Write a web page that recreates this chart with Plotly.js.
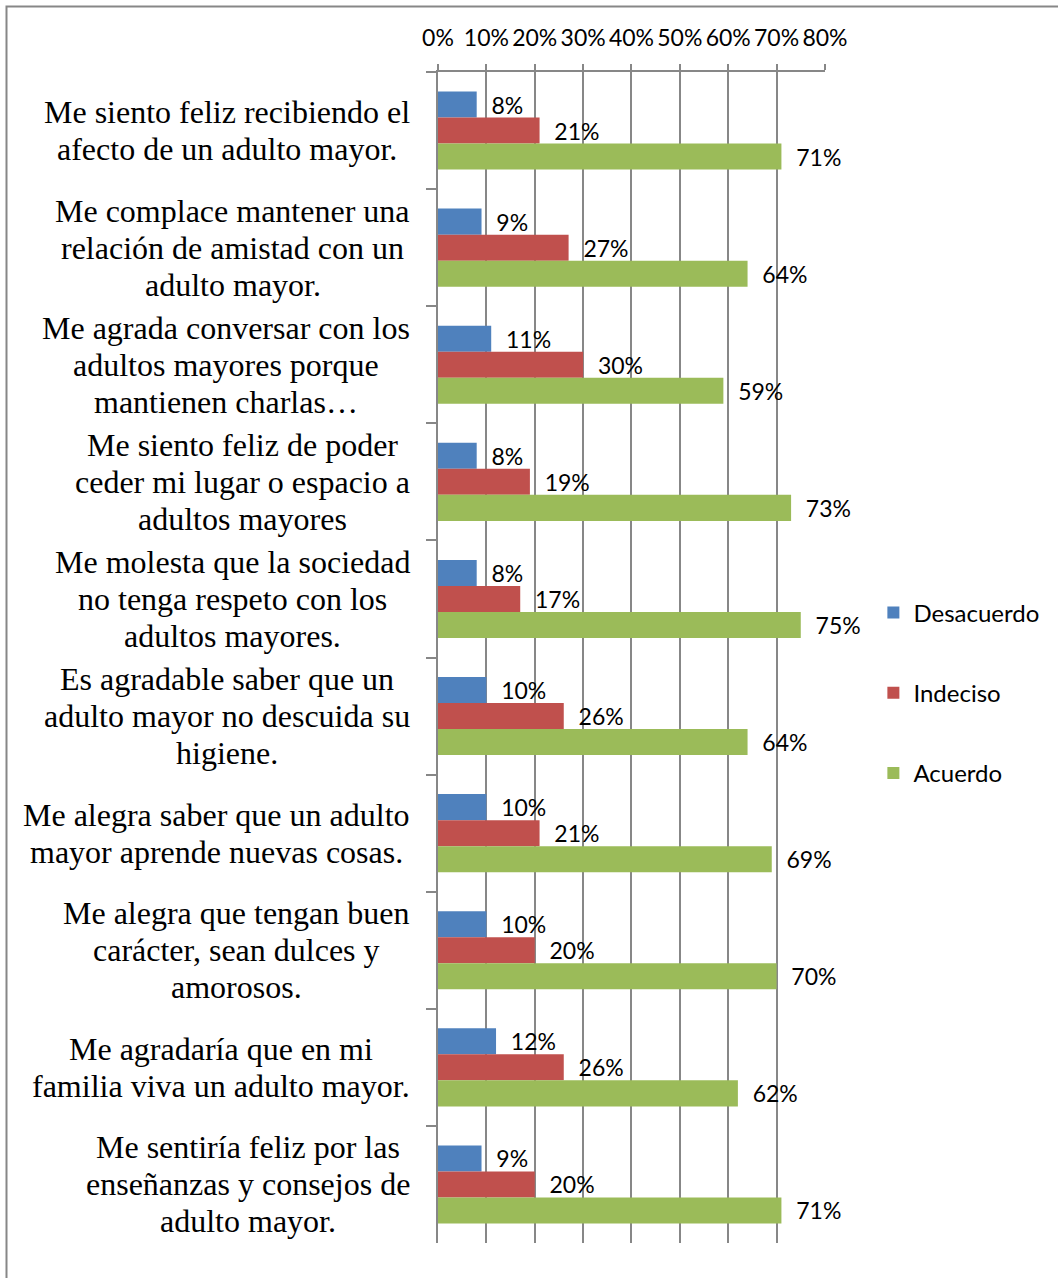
<!DOCTYPE html>
<html>
<head>
<meta charset="utf-8">
<script src="https://cdn.plot.ly/plotly-3.0.1.min.js"></script>
<style>html,body{margin:0;padding:0;background:#fff;}#chart{width:1058px;height:1278px;}</style>
</head>
<body>
<div id="chart"></div>
<script>
var categories = [
  "Me siento feliz recibiendo el<br>afecto de un adulto mayor.",
  "Me complace mantener una<br>relación de amistad con un<br>adulto mayor.",
  "Me agrada conversar con los<br>adultos mayores porque<br>mantienen charlas…",
  "Me siento feliz de poder<br>ceder mi lugar o espacio a<br>adultos mayores",
  "Me molesta que la sociedad<br>no tenga respeto con los<br>adultos mayores.",
  "Es agradable saber que un<br>adulto mayor no descuida su<br>higiene.",
  "Me alegra saber que un adulto<br>mayor aprende nuevas cosas.",
  "Me alegra que tengan buen<br>carácter, sean dulces y<br>amorosos.",
  "Me agradaría que en mi<br>familia viva un adulto mayor.",
  "Me sentiría feliz por las<br>enseñanzas y consejos de<br>adulto mayor."
];
var seriesNames = ["Desacuerdo", "Indeciso", "Acuerdo"];
var desacuerdo = [0.08, 0.09, 0.11, 0.08, 0.08, 0.10, 0.10, 0.10, 0.12, 0.09];
var indeciso   = [0.21, 0.27, 0.30, 0.19, 0.17, 0.26, 0.21, 0.20, 0.26, 0.20];
var acuerdo    = [0.71, 0.64, 0.59, 0.73, 0.75, 0.64, 0.69, 0.70, 0.62, 0.71];
var colors = ["#4F81BD", "#C0504D", "#9BBB59"];
var tickVals = [0, 0.1, 0.2, 0.3, 0.4, 0.5, 0.6, 0.7, 0.8];
var tickText = ["0%", "10%", "20%", "30%", "40%", "50%", "60%", "70%", "80%"];

var sansFont = "Lato, 'Open Sans', sans-serif";
var serifFont = "'Liberation Serif', 'DejaVu Serif', serif";
var labelSize = 32;
var lineStep = 37;
var labelGap = 28;

var allSeries = [desacuerdo, indeciso, acuerdo];
var traces = allSeries.map(function (vals, i) {
  return {
    type: "bar",
    orientation: "h",
    name: seriesNames[i],
    legendgroup: seriesNames[i],
    x: vals,
    y: categories,
    marker: {color: colors[i], line: {width: 0}},
    text: vals.map(function (v) { return "\u00a0\u00a0" + Math.round(v * 100) + "%"; }),
    textposition: "outside",
    constraintext: "none",
    cliponaxis: false,
    textfont: {family: sansFont, size: 23, color: "#000"},
    hoverinfo: "none"
  };
});

var ctx = document.createElement("canvas").getContext("2d");
ctx.font = labelSize + "px 'Liberation Serif'";
var annotations = [];
categories.forEach(function (c) {
  var lines = c.split("<br>");
  var maxW = 0;
  lines.forEach(function (l) { maxW = Math.max(maxW, ctx.measureText(l).width); });
  var n = lines.length;
  lines.forEach(function (l, j) {
    annotations.push({
      xref: "paper", yref: "y",
      x: 0, y: c,
      xanchor: "center", yanchor: "middle",
      xshift: -(labelGap + maxW / 2),
      yshift: -((j - (n - 1) / 2) * lineStep),
      text: l,
      showarrow: false,
      borderpad: 0,
      font: {family: serifFont, size: labelSize, color: "#000"}
    });
  });
});

var layout = {
  width: 1058, height: 1278,
  margin: {l: 438, r: 233, t: 72, b: 35},
  paper_bgcolor: "#fff", plot_bgcolor: "#fff",
  barmode: "group",
  bargap: 0.333,
  bargroupgap: 0,
  showlegend: true,
  legend: {
    x: 1.125, y: 0.4697, xanchor: "left", yanchor: "middle",
    traceorder: "grouped",
    tracegroupgap: 46,
    font: {family: sansFont, size: 24, color: "#000"},
    itemwidth: 30
  },
  xaxis: {
    side: "top",
    range: [0, 0.8001],
    tickvals: tickVals,
    ticktext: tickText,
    ticks: "outside", ticklen: 6, tickwidth: 2, tickcolor: "#878787",
    showgrid: true, gridcolor: "#878787", gridwidth: 2,
    showline: true, linecolor: "#878787", linewidth: 2,
    zeroline: false,
    tickfont: {family: sansFont, size: 23, color: "#000"},
    ticklabelstandoff: 9,
    fixedrange: true
  },
  yaxis: {
    type: "category",
    autorange: "reversed",
    showticklabels: false,
    ticks: "outside", ticklen: 10, tickwidth: 2, tickcolor: "#878787",
    tickson: "boundaries",
    showgrid: false,
    showline: true, linecolor: "#878787", linewidth: 2,
    zeroline: false,
    fixedrange: true
  },
  annotations: annotations,
  shapes: [{
    type: "rect", xref: "paper", yref: "paper",
    x0: -1.1150, x1: 1.7, y0: -0.1, y1: 1.0560,
    line: {color: "#878787", width: 2},
    fillcolor: "rgba(0,0,0,0)",
    layer: "below"
  }]
};

Plotly.newPlot("chart", traces, layout, {staticPlot: true, displayModeBar: false});
</script>
</body>
</html>
